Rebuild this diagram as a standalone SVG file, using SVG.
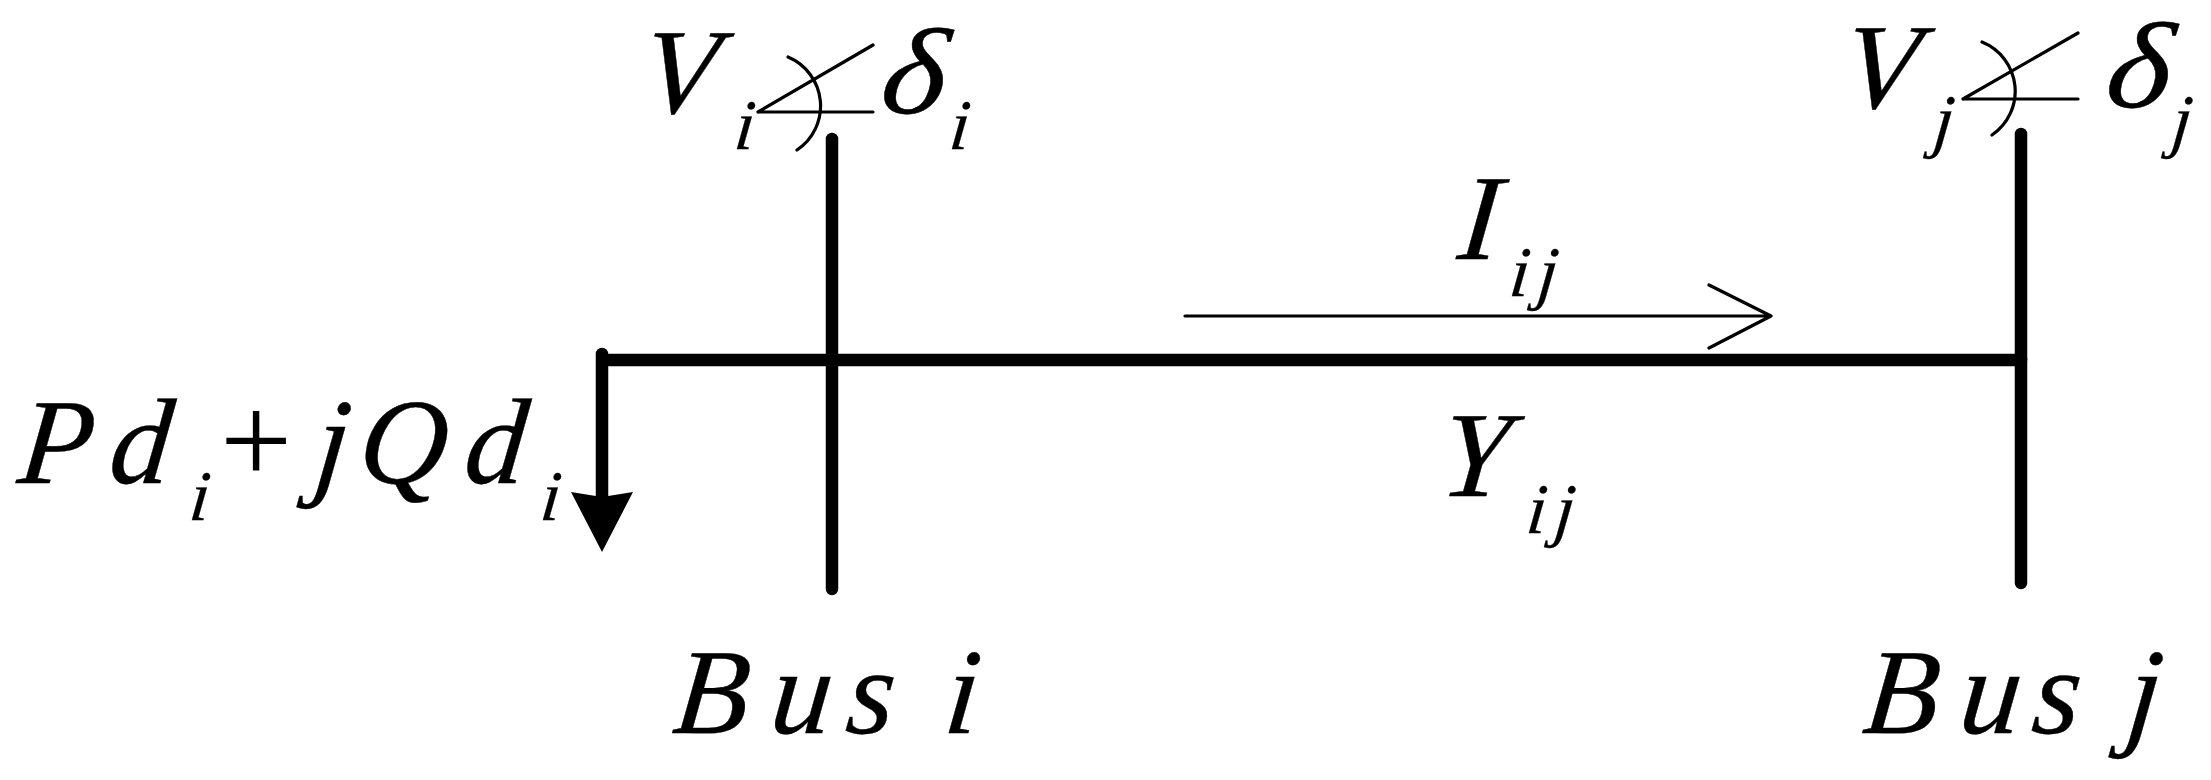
<svg xmlns="http://www.w3.org/2000/svg" width="2211" height="780" viewBox="0 0 2211 780">
<style>
text{font-family:"Liberation Serif","Times New Roman",serif;font-style:italic;fill:#000;stroke:#000;stroke-width:.4}
.m{font-size:122px}
.s{font-size:71px;stroke-width:.3}
.g{font-size:122px}
.up{font-style:normal;font-size:128px;stroke-width:0}
.thin{fill:none;stroke:#000;stroke-width:3.2;stroke-linecap:round;stroke-linejoin:round}
.bus{fill:none;stroke:#000;stroke-width:12.5;stroke-linecap:round}
</style>
<rect width="2211" height="780" fill="#fff"/>
<g id="connectors">
<line class="bus" x1="609" y1="360" x2="2021" y2="360"/>
<line class="bus" x1="602" y1="354" x2="602" y2="500"/>
<polygon points="602,552 571,492 602,497 633,492" fill="#000"/>
<path class="thin" d="M1185 316H1771M1709 285L1771 316L1709 348"/>
</g>
<g id="bus-i">
<line class="bus" x1="832" y1="139" x2="832" y2="589"/>
<text class="m" transform="translate(0,733) skewX(-6)" x="671 768 844 942" y="0">Busi</text>
</g>
<g id="bus-j">
<line class="bus" x1="2021" y1="134" x2="2021" y2="583"/>
<text class="m" transform="translate(0,733) skewX(-6)" x="1861 1957 2030 2124" y="0">Busj</text>
</g>
<g id="voltage-i">
<text class="m" transform="translate(0,113) skewX(-6)" x="640" y="0">V</text>
<text class="s" transform="translate(0,149) skewX(-6)" x="733" y="0">i</text>
<path class="thin" d="M758 112L873 45M758 112H873M788 57A53 53 0 0 1 797 150"/>
<text class="g" transform="translate(878,113) scale(1.14,1) skewX(-6)" x="0" y="0">δ</text>
<text class="s" transform="translate(0,149) skewX(-6)" x="948" y="0">i</text>
</g>
<g id="voltage-j">
<text class="m" transform="translate(0,108) skewX(-6)" x="1841" y="0">V</text>
<text class="s" transform="translate(0,144) skewX(-6)" x="1932" y="0">j</text>
<path class="thin" d="M1963 99L2078 33M1963 99H2078M1982 42A53 53 0 0 1 1992 135"/>
<text class="g" transform="translate(2103,107) scale(1.14,1) skewX(-6)" x="0" y="0">δ</text>
<text class="s" transform="translate(0,144) skewX(-6)" x="2170" y="0">j</text>
</g>
<g id="current">
<text class="m" transform="translate(0,259) skewX(-6)" x="1456" y="0">I</text>
<text class="s" transform="translate(0,296) skewX(-6)" x="1508 1536" y="0">ij</text>
</g>
<g id="admittance">
<text class="m" transform="translate(0,496) skewX(-6)" x="1438" y="0">Y</text>
<text class="s" transform="translate(0,533) skewX(-6)" x="1525 1553" y="0">ij</text>
</g>
<g id="load">
<text class="m" transform="translate(0,483) skewX(-6)" x="16 107" y="0">Pd</text>
<text class="s" transform="translate(0,520) skewX(-6)" x="188" y="0">i</text>
<text class="up" x="220" y="483">+</text>
<text class="m" transform="translate(0,483) skewX(-6)" x="312 356 462" y="0">jQd</text>
<text class="s" transform="translate(0,520) skewX(-6)" x="539" y="0">i</text>
</g>
</svg>
